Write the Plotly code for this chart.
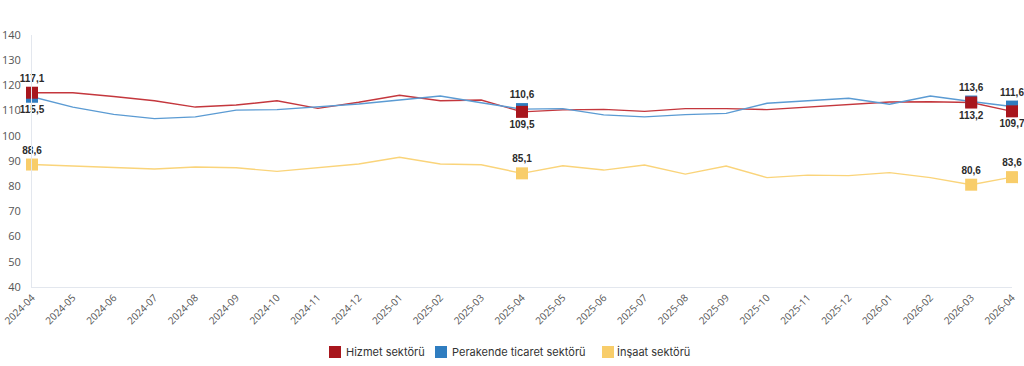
import plotly.graph_objects as go

months = ["2024-04", "2024-05", "2024-06", "2024-07", "2024-08", "2024-09", "2024-10",
          "2024-11", "2024-12", "2025-01", "2025-02", "2025-03", "2025-04", "2025-05",
          "2025-06", "2025-07", "2025-08", "2025-09", "2025-10", "2025-11", "2025-12",
          "2026-01", "2026-02", "2026-03", "2026-04"]

hizmet = [117.1, 117.1, 115.6, 113.9, 111.4, 112.2, 113.9, 110.9, 113.3, 116.1, 113.9, 114.2,
          109.5, 110.3, 110.5, 109.7, 110.8, 110.8, 110.4, 111.4, 112.2, 113.4, 113.5, 113.2, 109.7]
perakende = [115.5, 111.4, 108.5, 106.8, 107.5, 110.2, 110.4, 111.5, 112.6, 114.2, 115.8, 113.1,
             110.6, 110.8, 108.3, 107.5, 108.4, 108.9, 112.9, 113.9, 114.9, 112.5, 115.8, 113.6, 111.6]
insaat = [88.6, 88.0, 87.6, 86.8, 87.6, 87.3, 85.9, 87.3, 88.8, 91.5, 88.8, 88.5,
          85.1, 88.1, 86.4, 88.4, 84.8, 88.0, 83.4, 84.4, 84.2, 85.4, 83.4, 80.6, 83.6]

highlight_idx = [0, 12, 23, 24]

names = ["Hizmet sektörü", "Perakende ticaret sektörü", "İnşaat sektörü"]
line_colors = ["#c4373d", "#5b9bd3", "#fad47a"]
marker_colors = ["#a8161d", "#2f7dc0", "#f8cd6a"]
label_pos = {
    0: ["top center", "bottom center", "bottom center", "bottom center"],
    1: ["bottom center", "top center", "top center", "top center"],
    2: ["top center", "top center", "top center", "top center"],
}

W, H = 1024, 366
ML, MR, MT, MB = 32, 12, 35, 79
PW, PH = W - ML - MR, H - MT - MB

fig = go.Figure()
series = [hizmet, perakende, insaat]

def fmt(v):
    return f"{v:.1f}".replace(".", ",")

for k, s in enumerate(series):
    fig.add_trace(go.Scatter(x=months, y=s, mode="lines", showlegend=False,
                             line=dict(color=line_colors[k], width=1.4),
                             hoverinfo="skip"))

order = [1, 0, 2]
for k in order:
    s = series[k]
    xs = [months[i] for i in highlight_idx]
    ys = [s[i] for i in highlight_idx]
    fig.add_trace(go.Scatter(x=xs, y=ys, mode="markers+text", showlegend=False,
                             marker=dict(symbol="square", size=12, color=marker_colors[k]),
                             text=[fmt(v) for v in ys],
                             textposition=label_pos[k],
                             textfont=dict(family="Liberation Sans, Arial", size=10,
                                           color="#2b2b2b", weight="bold"),
                             cliponaxis=False))

# custom legend (square swatches + labels) below the plot
legend_marker_px = [329, 435, 602]
legend_text_px = [345, 451, 616]
legend_y_px = 352
def px_x(p):
    return (p - ML) / PW
def px_y(p):
    return (H - MB - p) / PH

shapes = []
annotations = []
for k in range(3):
    shapes.append(dict(type="rect", xref="paper", yref="paper",
                       x0=px_x(legend_marker_px[k]), x1=px_x(legend_marker_px[k] + 12),
                       y0=px_y(legend_y_px + 6), y1=px_y(legend_y_px - 6),
                       fillcolor=marker_colors[k], line=dict(width=0)))
    annotations.append(dict(xref="paper", yref="paper", x=px_x(legend_text_px[k]),
                            y=px_y(legend_y_px), xanchor="left", yanchor="middle",
                            text=names[k], showarrow=False, borderpad=0,
                            font=dict(family="Inter, Roboto", size=11, color="#333333")))

fig.update_layout(
    width=W, height=H,
    margin=dict(l=ML, r=MR, t=MT, b=MB, autoexpand=False),
    paper_bgcolor="white", plot_bgcolor="white",
    showlegend=False,
    shapes=shapes, annotations=annotations,
    xaxis=dict(type="category", range=[0, len(months) - 1], showgrid=False,
               showline=True, linecolor="#e3e7ee", linewidth=1, automargin=False,
               tickangle=-45, ticks="", tickfont=dict(family="Open Sans", size=10, color="#555555"),
               zeroline=False),
    yaxis=dict(range=[40, 140], dtick=10, showgrid=False, showline=True, automargin=False,
               linecolor="#e3e7ee", linewidth=1, zeroline=False,
               ticks="outside", ticklen=8, tickcolor="rgba(0,0,0,0)",
               tickfont=dict(family="Open Sans", size=11, color="#555555")),
)

fig.write_html("out.html", config={"displayModeBar": False},
               post_script="document.body.style.margin='0';document.body.style.overflow='hidden';")
